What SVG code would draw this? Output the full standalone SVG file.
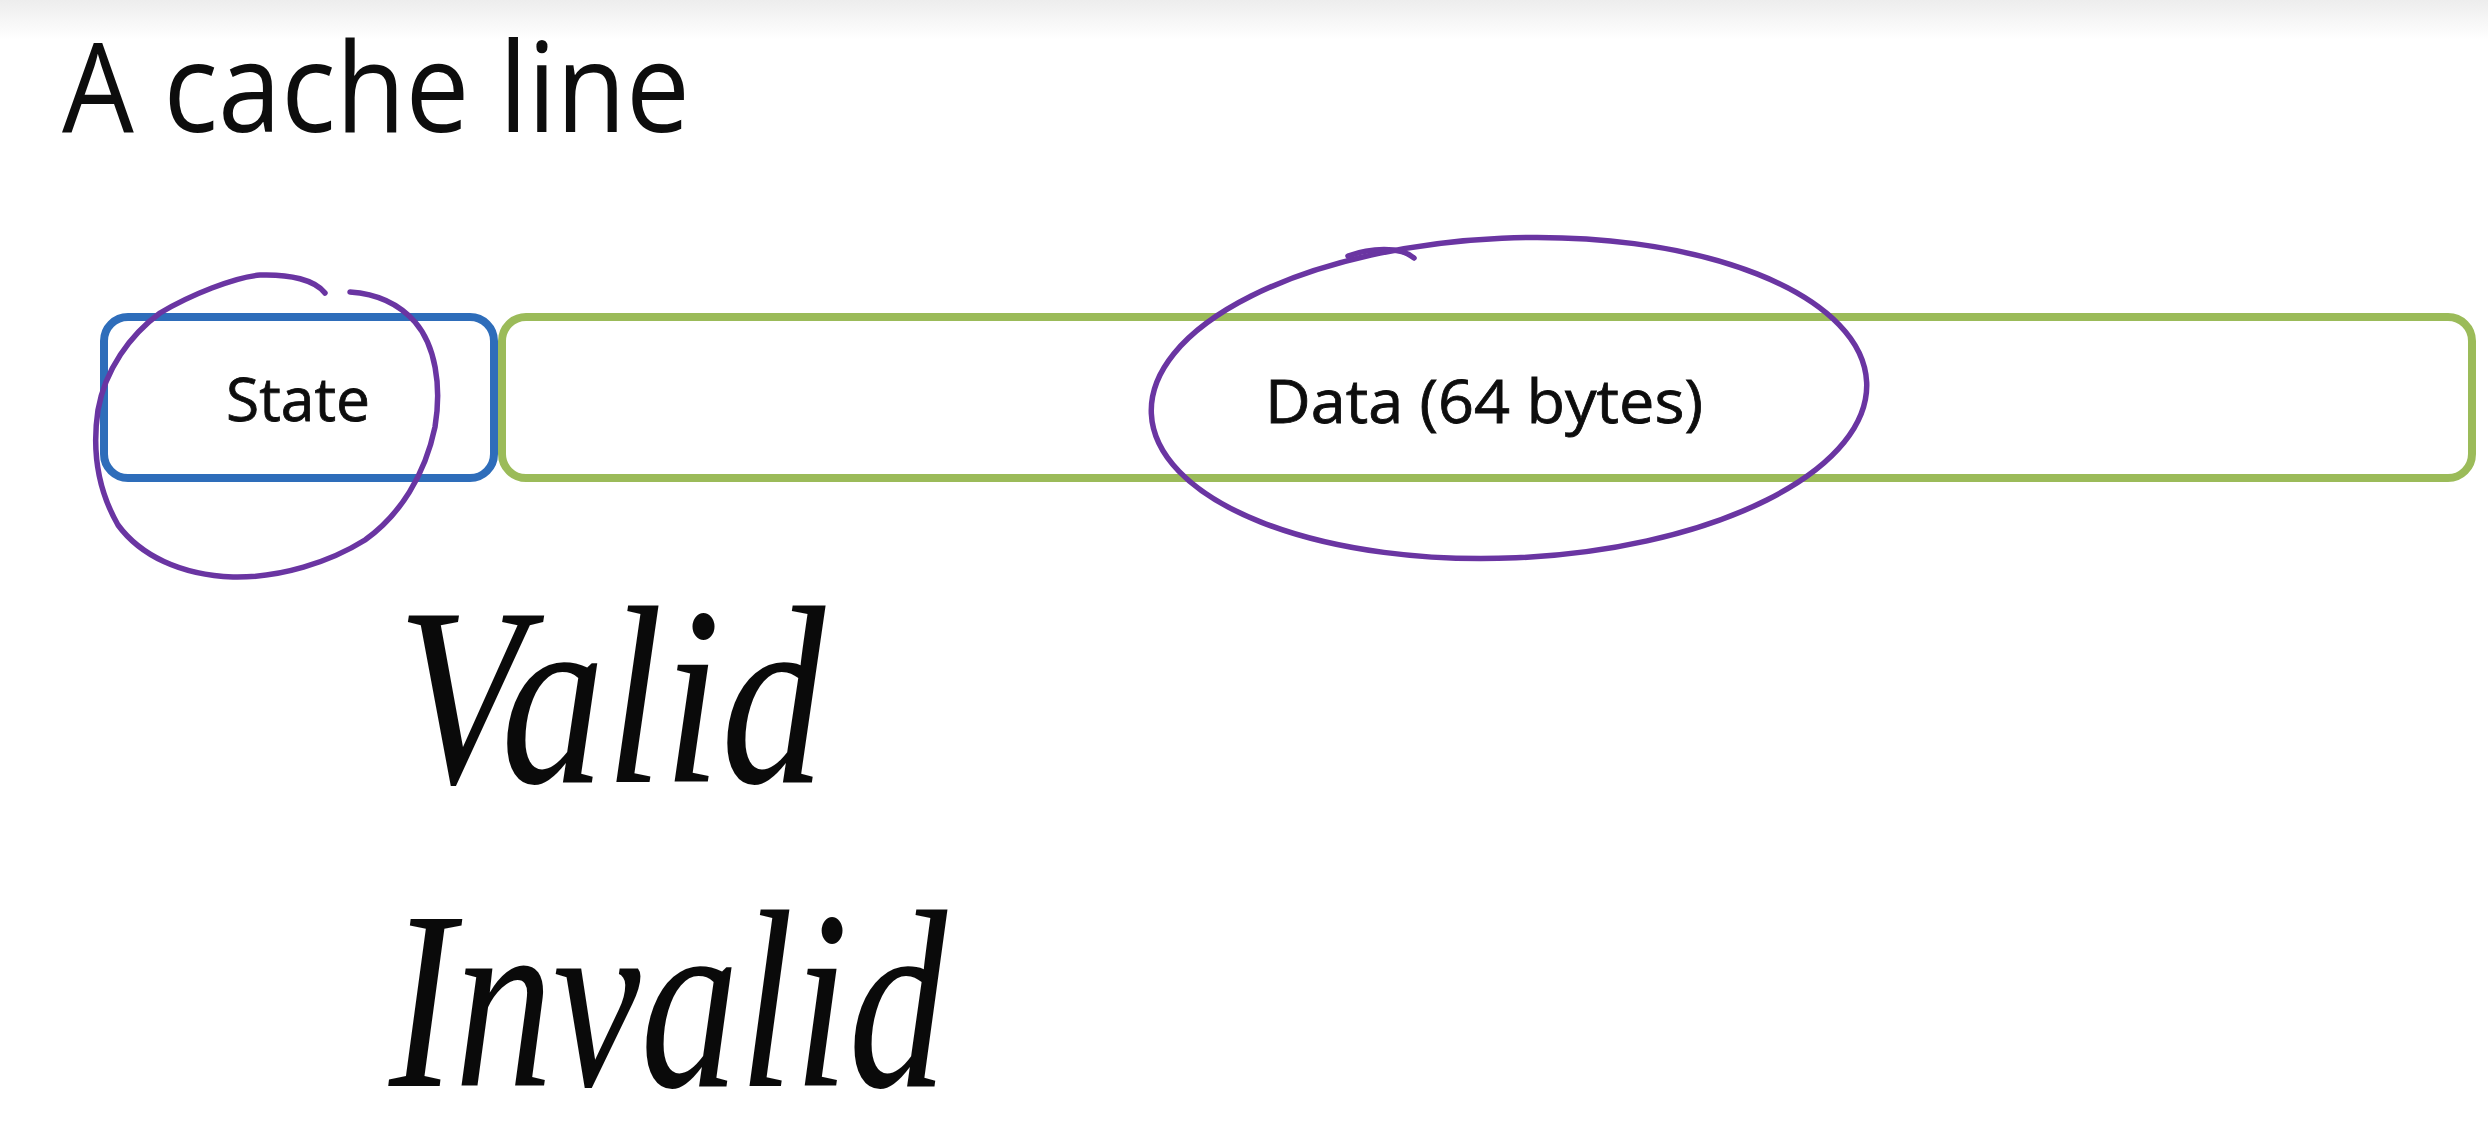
<svg xmlns="http://www.w3.org/2000/svg" width="2488" height="1138" viewBox="0 0 2488 1138">
  <defs>
    <linearGradient id="topband" x1="0" y1="0" x2="0" y2="1">
      <stop offset="0" stop-color="#ededed"/>
      <stop offset="1" stop-color="#ffffff"/>
    </linearGradient>
    <style>
      .label { font-family: "Open Sans", "Noto Sans", "Liberation Sans", sans-serif; fill: #0d0d0d; }
      .small { stroke: #0d0d0d; stroke-width: 0.8; }
      .box { fill: #ffffff; stroke-width: 8; }
      .ink { fill: none; stroke: #6a35a2; stroke-width: 5.5; stroke-linecap: round; stroke-linejoin: round; }
      .hand { font-family: "Liberation Serif", "DejaVu Serif", serif; font-style: italic; fill: #0a0a0a; }
    </style>
  </defs>
  <rect x="0" y="0" width="2488" height="1138" fill="#ffffff"/>
  <rect x="0" y="0" width="2488" height="40" fill="url(#topband)"/>

  <g id="title">
    <text class="label" x="62" y="132" font-size="124" textLength="628" lengthAdjust="spacingAndGlyphs">A cache line</text>
  </g>

  <g id="data">
    <rect class="box" x="502" y="317" width="1970" height="161" rx="24" ry="24" stroke="#9bbb59"/>
    <text class="label small" x="1484" y="423" font-size="61" text-anchor="middle" textLength="438" lengthAdjust="spacingAndGlyphs">Data (64 bytes)</text>
  </g>

  <g id="state">
    <rect class="box" x="104" y="317" width="390" height="161" rx="24" ry="24" stroke="#2e6dba"/>
    <text class="label small" x="298" y="421" font-size="60" text-anchor="middle" textLength="144" lengthAdjust="spacingAndGlyphs">State</text>
  </g>

  <g id="connectors"></g>

  <g id="annotations">
    <path class="ink" d="M325,293 C315,280 290,274 260,275 C235,277 190,295 160,313 C130,335 105,370 98,410 C92,450 98,490 118,525 C140,555 180,575 233,577 C280,578 330,562 365,540 C400,515 425,475 435,427 C442,385 435,345 415,322 C400,305 380,294 350,292"/>
    <ellipse class="ink" cx="1509" cy="398" rx="358" ry="160" transform="rotate(-2.5 1509 398)"/>
    <path class="ink" d="M1348,256 C1370,248 1400,246 1414,258" stroke-width="3.5"/>
  </g>

  <g id="valid">
    <text class="hand" x="397" y="782" font-size="255" textLength="428" lengthAdjust="spacingAndGlyphs">Valid</text>
  </g>

  <g id="invalid">
    <text class="hand" x="389" y="1086" font-size="255" textLength="558" lengthAdjust="spacingAndGlyphs">Invalid</text>
  </g>
</svg>
